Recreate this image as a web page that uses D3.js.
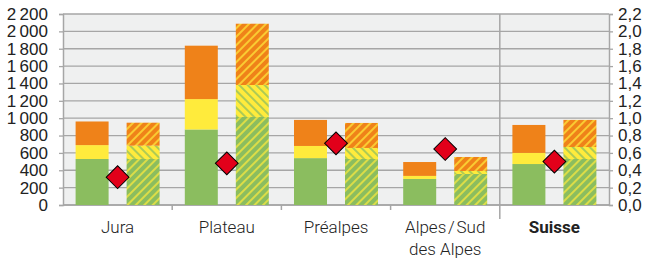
<!DOCTYPE html>
<html>
<head>
<meta charset="utf-8">
<script src="https://cdn.jsdelivr.net/npm/d3@7"></script>
<style>
  body { margin: 0; background: #fff; }
  svg { display: block; font-family: Roboto, "Noto Sans", sans-serif; }
</style>
</head>
<body>
<div id="chart"></div>
<script>
const categories = ["Jura", "Plateau", "Préalpes", "Alpes\u200A/\u200ASud|des Alpes", "Suisse"];

// first bar (plain)
const green1  = [530, 870, 540, 300, 472];
const yellow1 = [160, 350, 140, 35, 128];
const orange1 = [272, 615, 300, 160, 322];

// second bar (hatched)
const green2  = [530, 1014, 530, 357, 530];
const yellow2 = [153, 368, 127, 35, 138];
const orange2 = [265, 706, 288, 161, 312];

// diamonds, right axis
const ratio = [0.32, 0.48, 0.71, 0.645, 0.50];

const leftTicks = d3.range(0, 2201, 200);
const rightTicks = d3.range(0, 2.21, 0.2);

const colors = { green: "#8bbd5f", yellow: "#ffeb3c", orange: "#ef8219", red: "#e2001a" };

const width = 650, height = 258;
const margin = { top: 14, right: 41, bottom: 53, left: 63 };

const svg = d3.select("#chart").append("svg")
    .attr("width", width)
    .attr("height", height);

const defs = svg.append("defs");
function hatch(id, base, line, angle) {
    const p = defs.append("pattern")
        .attr("id", id)
        .attr("patternUnits", "userSpaceOnUse")
        .attr("width", 6).attr("height", 6)
        .attr("patternTransform", `rotate(${angle})`);
    p.append("rect").attr("width", 6).attr("height", 6).attr("fill", base);
    p.append("line").attr("x1", 1).attr("x2", 1).attr("y1", 0).attr("y2", 6)
        .attr("stroke", line).attr("stroke-width", 1.4);
}
hatch("hGreen", colors.green, colors.yellow, 45);
hatch("hYellow", colors.yellow, colors.green, -45);
hatch("hOrange", colors.orange, colors.yellow, 45);

const x = d3.scaleBand()
    .domain(categories)
    .range([margin.left, width - margin.right])
    .padding(0);

const y = d3.scaleLinear()
    .domain([0, 2200])
    .range([height - margin.bottom, margin.top]);

const y2 = d3.scaleLinear()
    .domain([0, 2.2])
    .range([height - margin.bottom, margin.top]);

// plot background
svg.append("rect")
    .attr("x", margin.left).attr("y", margin.top)
    .attr("width", width - margin.left - margin.right)
    .attr("height", height - margin.top - margin.bottom)
    .attr("fill", "#eff0f0");

// gridlines
svg.append("g")
    .selectAll("line")
    .data(leftTicks)
    .enter().append("line")
    .attr("x1", margin.left).attr("x2", width - margin.right)
    .attr("y1", d => y(d)).attr("y2", d => y(d))
    .attr("stroke", "#a6a6a6")
    .attr("stroke-width", 1.3);

// axes
const fmtLeft = d => d3.format(",")(d).replace(/,/g, "\u2009");
const fmtRight = d => d3.format(".1f")(d).replace(".", ",");

const leftAxis = svg.append("g")
    .attr("transform", `translate(${margin.left},0)`)
    .call(d3.axisLeft(y).tickValues(leftTicks).tickFormat(fmtLeft).tickSize(4).tickPadding(11));

const rightAxis = svg.append("g")
    .attr("transform", `translate(${width - margin.right},0)`)
    .call(d3.axisRight(y2).tickValues(rightTicks).tickFormat(fmtRight).tickSize(4).tickPadding(5));

const bottomAxis = svg.append("g")
    .attr("transform", `translate(0,${height - margin.bottom})`)
    .call(d3.axisBottom(x).tickSize(0).tickFormat(""));

[leftAxis, rightAxis, bottomAxis].forEach(g => {
    g.select(".domain").attr("stroke", "#a6a6a6").attr("stroke-width", 1.5);
    g.selectAll(".tick line").attr("stroke", "#a6a6a6").attr("stroke-width", 1.3);
    g.selectAll(".tick text")
        .attr("font-size", 17)
        .attr("font-weight", 300)
        .attr("fill", "#222");
});
bottomAxis.select(".domain").attr("d", `M${margin.left},0H${width - margin.right}`);

// category boundary ticks
const bounds = categories.slice(1).map(c => x(c));
svg.append("g")
    .selectAll("line")
    .data(bounds)
    .enter().append("line")
    .attr("x1", d => d).attr("x2", d => d)
    .attr("y1", (d, i) => i === 3 ? margin.top : y(0))
    .attr("y2", (d, i) => i === 3 ? y(0) + 14 : y(0) + 5)
    .attr("stroke", "#a6a6a6")
    .attr("stroke-width", 1.5);

// bars
const barW = 33, offset = 25.5;
function stackBar(g, yl, o, fills) {
    return [
        { y0: 0, y1: g, fill: fills[0] },
        { y0: g, y1: g + yl, fill: fills[1] },
        { y0: g + yl, y1: g + yl + o, fill: fills[2] }
    ];
}
const barsG = svg.append("g");
categories.forEach((c, i) => {
    const cx = x(c) + x.bandwidth() / 2;
    const s1 = stackBar(green1[i], yellow1[i], orange1[i], [colors.green, colors.yellow, colors.orange]);
    const s2 = stackBar(green2[i], yellow2[i], orange2[i], ["url(#hGreen)", "url(#hYellow)", "url(#hOrange)"]);
    [[s1, cx - offset], [s2, cx + offset]].forEach(([segs, bx]) => {
        barsG.selectAll(null)
            .data(segs)
            .enter().append("rect")
            .attr("x", bx - barW / 2)
            .attr("width", barW)
            .attr("y", d => y(d.y1))
            .attr("height", d => y(d.y0) - y(d.y1))
            .attr("fill", d => d.fill);
    });
});

// diamonds
svg.append("g")
    .selectAll("path")
    .data(ratio)
    .enter().append("path")
    .attr("transform", (d, i) => `translate(${x(categories[i]) + x.bandwidth() / 2},${y2(d)}) rotate(45)`)
    .attr("d", d3.symbol().type(d3.symbolSquare).size(260))
    .attr("fill", colors.red)
    .attr("stroke", "#000")
    .attr("stroke-width", 1);

// category labels
const labels = svg.append("g")
    .selectAll("text")
    .data(categories)
    .enter().append("text")
    .attr("text-anchor", "middle")
    .attr("font-size", 17)
    .attr("fill", "#222")
    .attr("font-weight", d => d === "Suisse" ? 700 : 300)
    .attr("x", d => x(d) + x.bandwidth() / 2)
    .attr("y", 233);

labels.each(function(d) {
    const parts = d.split("|");
    const t = d3.select(this);
    parts.forEach((p, k) => {
        t.append("tspan")
            .attr("x", x(d) + x.bandwidth() / 2)
            .attr("dy", k === 0 ? 0 : 22)
            .text(p);
    });
});
</script>
</body>
</html>
